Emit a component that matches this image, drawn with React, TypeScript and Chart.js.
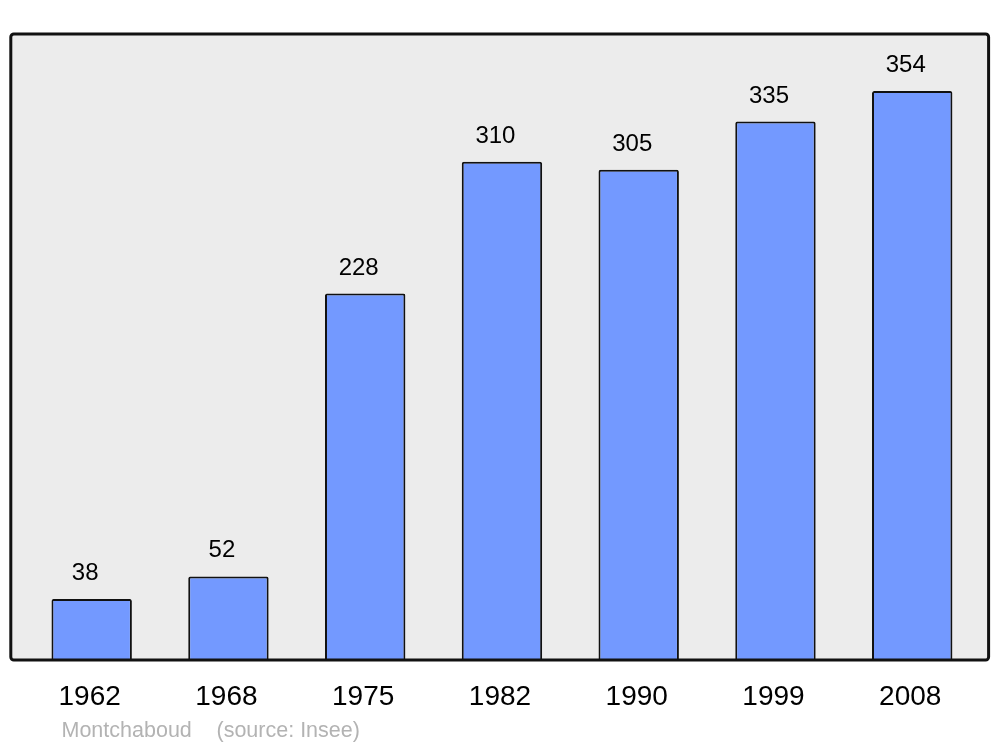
import React, { useEffect, useRef } from "react";
import { Chart, registerables } from "chart.js";

Chart.register(...registerables);

const years = ["1962", "1968", "1975", "1982", "1990", "1999", "2008"];
const population = [38, 52, 228, 310, 305, 335, 354];
const commune = "Montchaboud";
const source = "(source: Insee)";

const FONT = "'Liberation Sans', Arial, sans-serif";

const framePlugin = {
  id: "frame",
  beforeDatasetsDraw(chart: any) {
    const { ctx, chartArea } = chart;
    const l = chartArea.left - 12.5;
    const r = chartArea.right + 8;
    const t = chartArea.top;
    const b = chartArea.bottom;
    ctx.save();
    ctx.beginPath();
    ctx.roundRect(l, t, r - l, b - t, 3);
    ctx.fillStyle = "#ececec";
    ctx.fill();
    ctx.restore();
  },
  afterDatasetsDraw(chart: any) {
    const { ctx, chartArea } = chart;
    const l = chartArea.left - 12.5;
    const r = chartArea.right + 8;
    const t = chartArea.top;
    const b = chartArea.bottom;
    ctx.save();
    ctx.beginPath();
    ctx.roundRect(l, t, r - l, b - t, 3);
    ctx.lineWidth = 3;
    ctx.strokeStyle = "#111111";
    ctx.stroke();

    // value labels
    const meta = chart.getDatasetMeta(0);
    ctx.fillStyle = "#000000";
    ctx.font = `24px ${FONT}`;
    ctx.textAlign = "center";
    ctx.textBaseline = "alphabetic";
    meta.data.forEach((bar: any, i: number) => {
      ctx.fillText(String(population[i]), bar.x - 6.5, bar.y - 19);
    });

    // footer
    ctx.fillStyle = "#b3b3b3";
    ctx.font = `21.5px ${FONT}`;
    ctx.textAlign = "left";
    ctx.fillText(commune, 61.5, 737);
    ctx.fillText(source, 216.5, 737);
    ctx.restore();
  },
};

export default function App() {
  const ref = useRef<HTMLCanvasElement>(null);
  useEffect(() => {
    if (!ref.current) return;
    const chart = new Chart(ref.current, {
      type: "bar",
      data: {
        labels: years,
        datasets: [
          {
            data: population,
            backgroundColor: "#7399ff",
            borderColor: "#111111",
            borderWidth: 2,
            borderSkipped: "bottom",
            borderRadius: { topLeft: 2, topRight: 2, bottomLeft: 0, bottomRight: 0 },
            barPercentage: 0.588,
            categoryPercentage: 1,
          },
        ],
      },
      options: {
        animation: false,
        responsive: false,
        layout: { padding: { left: 23.3, right: 19.4, top: 34, bottom: 0 } },
        plugins: { legend: { display: false }, tooltip: { enabled: false } },
        scales: {
          y: { display: false, min: 0, max: 389.5 },
          x: {
            grid: { display: false, drawTicks: false },
            border: { display: false },
            ticks: {
              color: "#000000",
              font: { family: FONT, size: 28 },
              padding: 20,
              labelOffset: -2,
              maxRotation: 0,
            },
            afterFit(scale: any) {
              scale.height = 87;
            },
          },
        },
      },
      plugins: [framePlugin],
    });
    return () => chart.destroy();
  }, []);
  return (
    <div style={{ position: "absolute", left: 0, top: 0, width: 1000, height: 747, background: "#ffffff" }}>
      <canvas ref={ref} width={1000} height={747} />
    </div>
  );
}
